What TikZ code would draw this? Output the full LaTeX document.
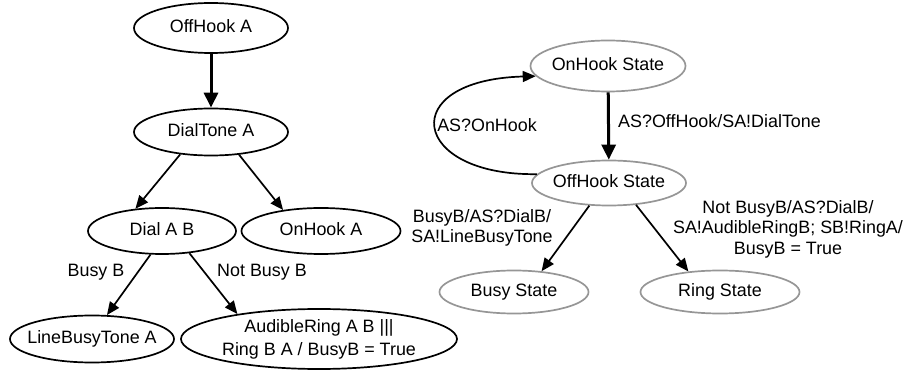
\documentclass[tikz,border=0pt]{standalone}
\usepackage{fontspec}
\setmainfont{Liberation Sans}
\usetikzlibrary{arrows.meta,shapes.geometric}
\definecolor{edgegray}{RGB}{150,150,150}
\begin{document}
\begin{tikzpicture}[x=1pt,y=-1pt,
  st/.style={ellipse,draw,line width=1.7pt,inner xsep=-30pt,inner ysep=-8pt,
    font=\fontsize{17.9}{20.5}\selectfont,align=center},
  sl/.style={text height=12.9pt,text depth=3.8pt},
  gst/.style={st,sl,draw=edgegray},
  lbl/.style={font=\fontsize{17.9}{20.5}\selectfont,align=center,inner sep=0pt},
  arr/.style={line width=1.7pt,-{Triangle[length=13pt,width=11pt]}},
  tarr/.style={line width=3pt,-{Triangle[length=15pt,width=14pt]}}
]
\useasboundingbox (0,0) rectangle (906,374);

% left graph
\node[st,sl,minimum width=154pt,minimum height=50pt] (oa) at (211,28) {OffHook A};
\node[st,sl,minimum width=154pt,minimum height=47pt] (dt) at (211,132) {DialTone A};
\node[st,sl,minimum width=148pt,minimum height=46pt] (dab) at (162,231) {Dial A B};
\node[st,sl,minimum width=159pt,minimum height=46pt] (oha) at (321,231) {OnHook A};
\node[st,sl,minimum width=164pt,minimum height=47pt] (lbt) at (92,339) {LineBusyTone A};
\node[st,font=\fontsize{17.9}{23}\selectfont,minimum width=276pt,minimum height=60pt] (ar) at (319,339) {AudibleRing A B |||\\Ring B A / BusyB = True};

\draw[tarr] (oa) -- (dt);
\draw[arr] (dt.216) -- (dab.140);
\draw[arr] (dt.321) -- (oha.151);
\draw[arr] (dab.244) -- (lbt.58);
\draw[arr] (dab.321) -- (ar.163);

\node[lbl] (lb1) at (96,272) {Busy B};
\node[lbl] (lb2) at (262,272) {Not Busy B};

% right graph
\node[gst,minimum width=155pt,minimum height=51pt] (ons) at (608,66) {OnHook State};
\node[gst,minimum width=154pt,minimum height=45pt] (ofs) at (609,183) {OffHook State};
\node[gst,minimum width=149pt,minimum height=43pt] (bs) at (514,292) {Busy State};
\node[gst,minimum width=159pt,minimum height=43pt] (rs) at (720,292) {Ring State};

\draw[tarr] (ons) -- (ofs);
\draw[arr] (ofs.173) .. controls (410,176) and (395,80) .. (ons.188);
\draw[arr] (ofs.229) -- (bs.37);
\draw[arr] (ofs.321) -- (rs.147);

\node[lbl,anchor=west] (l3) at (618,121) {AS?OffHook/SA!DialTone};
\node[lbl] (l4) at (487,125) {AS?OnHook};
\node[lbl] (l5) at (482,228) {BusyB/AS?DialB/\\SA!LineBusyTone};
\node[lbl] (l6) at (788,229) {Not BusyB/AS?DialB/\\SA!AudibleRingB; SB!RingA/\\BusyB = True};
\end{tikzpicture}
\end{document}
